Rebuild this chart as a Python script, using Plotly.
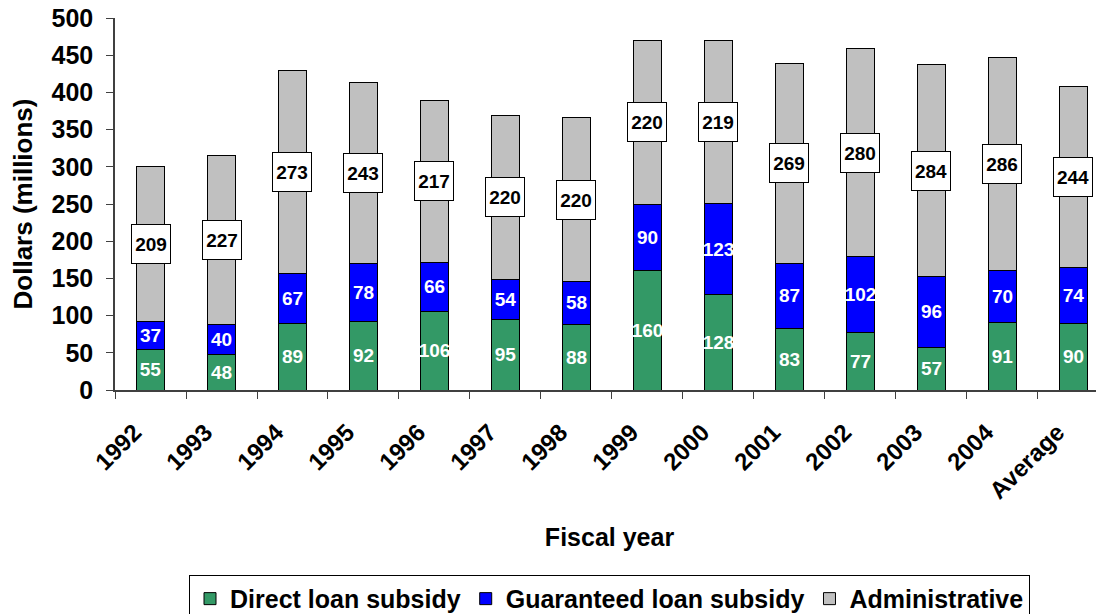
import plotly.graph_objects as go

years = ["1992", "1993", "1994", "1995", "1996", "1997", "1998", "1999",
         "2000", "2001", "2002", "2003", "2004", "Average"]
direct = [55, 48, 89, 92, 106, 95, 88, 160, 128, 83, 77, 57, 91, 90]
guaranteed = [37, 40, 67, 78, 66, 54, 58, 90, 123, 87, 102, 96, 70, 74]
admin = [209, 227, 273, 243, 217, 220, 220, 220, 219, 269, 280, 284, 286, 244]
yticks = [0, 50, 100, 150, 200, 250, 300, 350, 400, 450, 500]

FONT = "Liberation Sans, Arial, sans-serif"
line = dict(color="black", width=1)

fig = go.Figure()
fig.add_trace(go.Bar(
    x=years, y=direct, name="Direct loan subsidy",
    marker=dict(color="#339966", line=line),
    text=[str(v) for v in direct], textposition="inside",
    insidetextanchor="middle", textangle=0,
    textfont=dict(color="white", size=19, family=FONT, weight="bold"),
))
fig.add_trace(go.Bar(
    x=years, y=guaranteed, name="Guaranteed loan subsidy",
    marker=dict(color="#0000FF", line=line),
    text=[str(v) for v in guaranteed], textposition="inside",
    insidetextanchor="middle", textangle=0,
    textfont=dict(color="white", size=19, family=FONT, weight="bold"),
))
fig.add_trace(go.Bar(
    x=years, y=admin, name="Administrative",
    marker=dict(color="#C0C0C0", line=line),
))

for i in range(len(years)):
    base = direct[i] + guaranteed[i]
    fig.add_annotation(
        x=i, y=base + admin[i] / 2, xref="x", yref="y",
        text=str(admin[i]), showarrow=False,
        font=dict(color="black", size=19, family=FONT, weight="bold"),
        bgcolor="white", bordercolor="black", borderwidth=1,
        width=36, height=36, borderpad=1,
    )

# page body has an 8px default margin, so the figure is sized to fit inside it
fig.update_layout(
    width=1096, height=606,
    margin=dict(l=107, r=0, t=10, b=224, autoexpand=False),
    barmode="stack", bargap=0.6,
    plot_bgcolor="white", paper_bgcolor="white",
    font=dict(family=FONT, color="black"),
    uniformtext=dict(minsize=19, mode="show"),
    showlegend=True,
    legend=dict(
        orientation="h", x=0.5, xanchor="center", y=-0.497, yanchor="top",
        font=dict(size=25, family=FONT, weight="bold"),
        bordercolor="black", borderwidth=1, bgcolor="white",
        traceorder="normal", itemwidth=30,
    ),
    xaxis=dict(
        type="category", range=[-0.5, 13.43], automargin=False,
        showline=True, linecolor="#404040", linewidth=1.5,
        ticks="outside", tickson="boundaries", ticklen=7, tickcolor="#404040",
        tickangle=-45, tickfont=dict(size=24, family=FONT, weight="bold"),
        ticklabelshift=-16, ticklabelstandoff=17, ticklabeloverflow="allow",
        title=dict(text="Fiscal year", standoff=26,
                   font=dict(size=25, family=FONT, weight="bold")),
        showgrid=False,
    ),
    yaxis=dict(
        range=[0, 500], tickvals=yticks, ticktext=[str(v) for v in yticks],
        automargin=False,
        showline=True, linecolor="#404040", linewidth=1.5,
        ticks="outside", ticklen=7, tickcolor="#404040",
        ticklabelstandoff=8, ticklabeloverflow="allow",
        tickfont=dict(size=25, family=FONT, weight="bold"),
        title=dict(text="Dollars (millions)", standoff=15,
                   font=dict(size=26, family=FONT, weight="bold")),
        showgrid=False, zeroline=False,
    ),
)

fig.write_html("out.html")
